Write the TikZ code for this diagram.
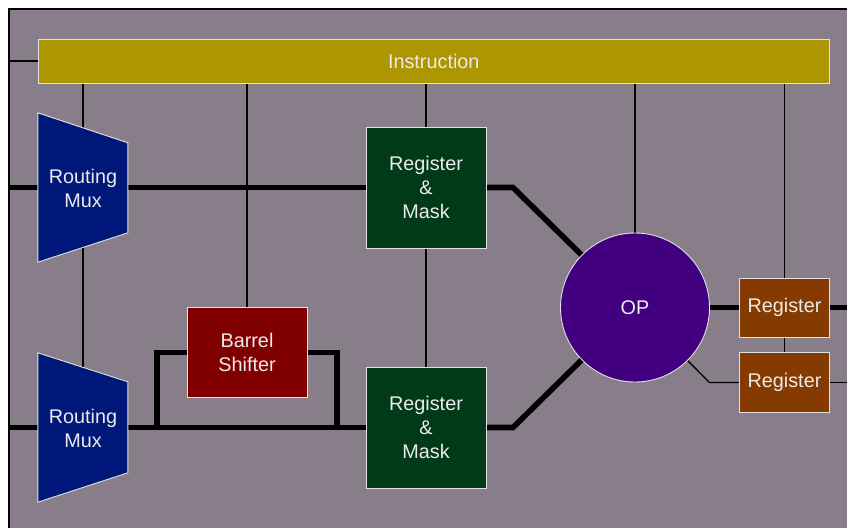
\documentclass[tikz,border=0pt]{standalone}
\usepackage{fontspec}
\setmainfont{Liberation Sans}
\usetikzlibrary{calc}
\pgfdeclarelayer{bg}
\pgfdeclarelayer{wires}
\pgfsetlayers{bg,wires,main}
\definecolor{panel}{RGB}{136,126,138}
\definecolor{instr}{RGB}{173,150,0}
\definecolor{muxblue}{RGB}{0,24,122}
\definecolor{rmgreen}{RGB}{0,58,24}
\definecolor{barrelred}{RGB}{128,0,0}
\definecolor{oppurple}{RGB}{66,0,128}
\definecolor{regbrown}{RGB}{133,58,0}
\definecolor{edge}{RGB}{225,225,225}
\definecolor{txt}{RGB}{235,235,235}
\begin{document}
\begin{tikzpicture}[x=1pt,y=-1pt,
  lbl/.style={text=txt, align=center, inner sep=0pt, font=\fontsize{19.8}{24}\selectfont},
  box/.style={lbl, draw=edge, line width=0.9pt},
  muxshape/.style={fill=muxblue, draw=edge, line width=0.9pt},
  bus/.style={line width=5.6pt, black},
  wire/.style={line width=1.3pt, black}]
\useasboundingbox (0,0) rectangle (847,528);

\begin{pgfonlayer}{bg}
  \fill[white] (0,0) rectangle (847,528);
  \fill[panel] (9,9) rectangle (847,528);
  \draw[line width=1.5pt] (9,528) -- (9,9) -- (847,9);
\end{pgfonlayer}

% blocks
\node[box, fill=instr, minimum width=790.5pt, minimum height=44pt] (ins) at (433.75,61) {Instruction};
\node[box, fill=rmgreen, minimum width=120pt, minimum height=121pt] (rm1) at (426,187.5) {Register\\\&\\Mask};
\node[box, fill=rmgreen, minimum width=120pt, minimum height=121pt] (rm2) at (426,427.5) {Register\\\&\\Mask};
\node[box, fill=barrelred, minimum width=120pt, minimum height=90pt] (bs) at (247,352.5) {Barrel\\Shifter};
\node[box, circle, fill=oppurple, minimum size=149pt] (op) at (635,307.5) {OP};
\node[box, fill=regbrown, minimum width=90pt, minimum height=59pt] (reg1) at (784.5,307.5) {Register};
\node[box, fill=regbrown, minimum width=90pt, minimum height=60pt] (reg2) at (784.5,382.5) {Register};

% routing muxes
\node[inner sep=0pt, minimum width=90pt, minimum height=149pt] (mux1) at (83,187.5) {};
\filldraw[muxshape] (mux1.north west) -- ++(90,30) -- ++(0,90) -- (mux1.south west) -- cycle;
\node[lbl] (mux1t) at ([yshift=-1pt]mux1.center) {Routing\\Mux};
\node[inner sep=0pt, minimum width=90pt, minimum height=149pt] (mux2) at (83,427.5) {};
\filldraw[muxshape] (mux2.north west) -- ++(90,29) -- ++(0,91) -- (mux2.south west) -- cycle;
\node[lbl] (mux2t) at ([yshift=-1pt]mux2.center) {Routing\\Mux};

% free ends
\coordinate (lstub) at (9,61);
\coordinate (lb1) at (9,187.5);
\coordinate (lb2) at (9,427.5);
\coordinate (k1) at (513,187.5);
\coordinate (k2) at (513,427.5);
\coordinate (b1) at (157,427.5);
\coordinate (b2) at (337,427.5);
\coordinate (rr1) at (847,307.5);
\coordinate (opk) at (709.5,382.5);
\coordinate (rr2) at (847,382.5);

\begin{pgfonlayer}{wires}
  % control lines
  \draw[wire] (lstub) -- (ins.west);
  \draw[wire] (ins.south -| mux1.center) -- (mux1.center) -- (mux2.center);
  \draw[wire] (ins.south -| bs.north) -- (bs.north);
  \draw[wire] (ins.south -| rm1.north) -- (rm1.north);
  \draw[wire] (rm1.south) -- (rm2.north);
  \draw[wire] (ins.south -| op.north) -- (op.north);
  \draw[wire] (ins.south -| reg1.north) -- (reg1.north);
  \draw[wire] (reg1.south) -- (reg2.north);
  \draw[wire] (op.center) -- (opk) -- (reg2.west);
  \draw[wire] (reg2.east) -- (rr2);
  % data buses
  \draw[bus] (lb1) -- (mux1.center);
  \draw[bus] (mux1.center) -- (rm1.center);
  \draw[bus] (rm1.center) -- (k1) -- (op.center);
  \draw[bus] (lb2) -- (mux2.center);
  \draw[bus] (mux2.center) -- (rm2.center);
  \draw[bus] (rm2.center) -- (k2) -- (op.center);
  \draw[bus] (b1) -- (b1 |- bs.center) -- (bs.center);
  \draw[bus] (bs.center) -- (b2 |- bs.center) -- (b2);
  \draw[bus] (op.center) -- (reg1.center);
  \draw[bus] (reg1.center) -- (rr1);
\end{pgfonlayer}
\end{tikzpicture}
\end{document}
